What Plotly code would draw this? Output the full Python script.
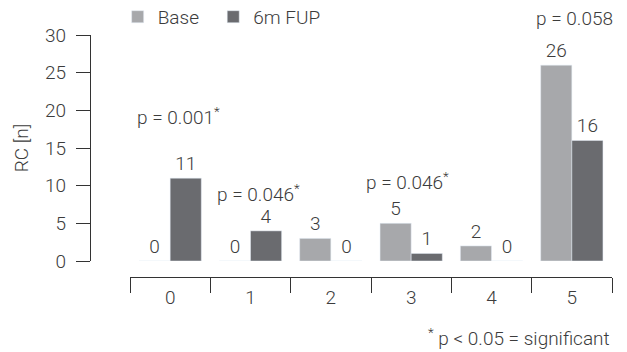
import plotly.graph_objects as go

categories = ["0", "1", "2", "3", "4", "5"]
base_vals = [0, 0, 3, 5, 2, 26]
fup_vals = [11, 4, 0, 1, 0, 16]
p_texts = ["p = 0.001<sup>*</sup>", "p = 0.046<sup>*</sup>", "p = 0.046<sup>*</sup>"]
p_cats = [0, 1, 3]
p_ys = [19.2, 9.0, 10.6]
p_dx = [8, 8, -4]
p_last_text = "p = 0.058"
p_last_cat = 5
y_ticks = [0, 5, 10, 15, 20, 25, 30]

FONT = "Roboto"
FS = 19
FW = 300
TXT = "#3c3c3c"
base_col = "#a7a8ab"
fup_col = "#6a6b6f"

def f(size=FS):
    return dict(family=FONT, size=size, color=TXT, weight=FW)

fig = go.Figure()
fig.add_trace(go.Bar(x=categories, y=base_vals, name="Base&nbsp;&nbsp;", marker_color=base_col,
                     text=base_vals, textposition="outside", cliponaxis=False,
                     textfont=f()))
fig.add_trace(go.Bar(x=categories, y=fup_vals, name="6m FUP", marker_color=fup_col,
                     text=fup_vals, textposition="outside", cliponaxis=False,
                     textfont=f()))

for t, c, yv, dx in zip(p_texts, p_cats, p_ys, p_dx):
    fig.add_annotation(x=c, y=yv, xref="x", yref="y", text=t, showarrow=False,
                       xshift=dx, font=f())

fig.add_annotation(x=p_last_cat, y=1.0, xref="x", yref="y domain", text=p_last_text,
                   showarrow=False, xshift=3, yshift=17, yanchor="middle", font=f())

fig.add_annotation(x=1.0, y=-0.25, xref="paper", yref="paper", xanchor="right", yanchor="middle",
                   text="<sup>*</sup> p &lt; 0.05 = significant", showarrow=False,
                   font=f())

fig.update_layout(
    width=619, height=344,
    margin=dict(l=82, r=15, t=27, b=75, autoexpand=False),
    plot_bgcolor="white", paper_bgcolor="white",
    barmode="group", bargap=0.225, bargroupgap=0,
    font=f(),
    showlegend=True,
    legend=dict(orientation="h", x=0.053, y=1.075, xanchor="left", yanchor="middle",
                font=f(), itemwidth=30,
                bgcolor="rgba(0,0,0,0)"),
    xaxis=dict(type="category", domain=[40/522, 1], anchor="free", position=0,
               range=[-0.5, 5.5], tickson="boundaries", ticks="outside", ticklen=15,
               tickcolor="#333", tickwidth=1.3, showline=True, linecolor="#333", linewidth=1.3,
               showgrid=False, automargin=False, ticklabelstandoff=3, tickfont=f()),
    yaxis=dict(domain=[16/242, 1], anchor="free", position=0, range=[0, 30],
               tickvals=y_ticks, ticks="outside", ticklen=14, tickcolor="#333", tickwidth=1.3,
               showline=True, linecolor="#333", linewidth=1.3, showgrid=False, zeroline=False,
               ticklabelstandoff=6, automargin=False,
               title=dict(text="RC [n]", standoff=10, font=f()),
               tickfont=f()),
)

fig.write_html("out.html")
